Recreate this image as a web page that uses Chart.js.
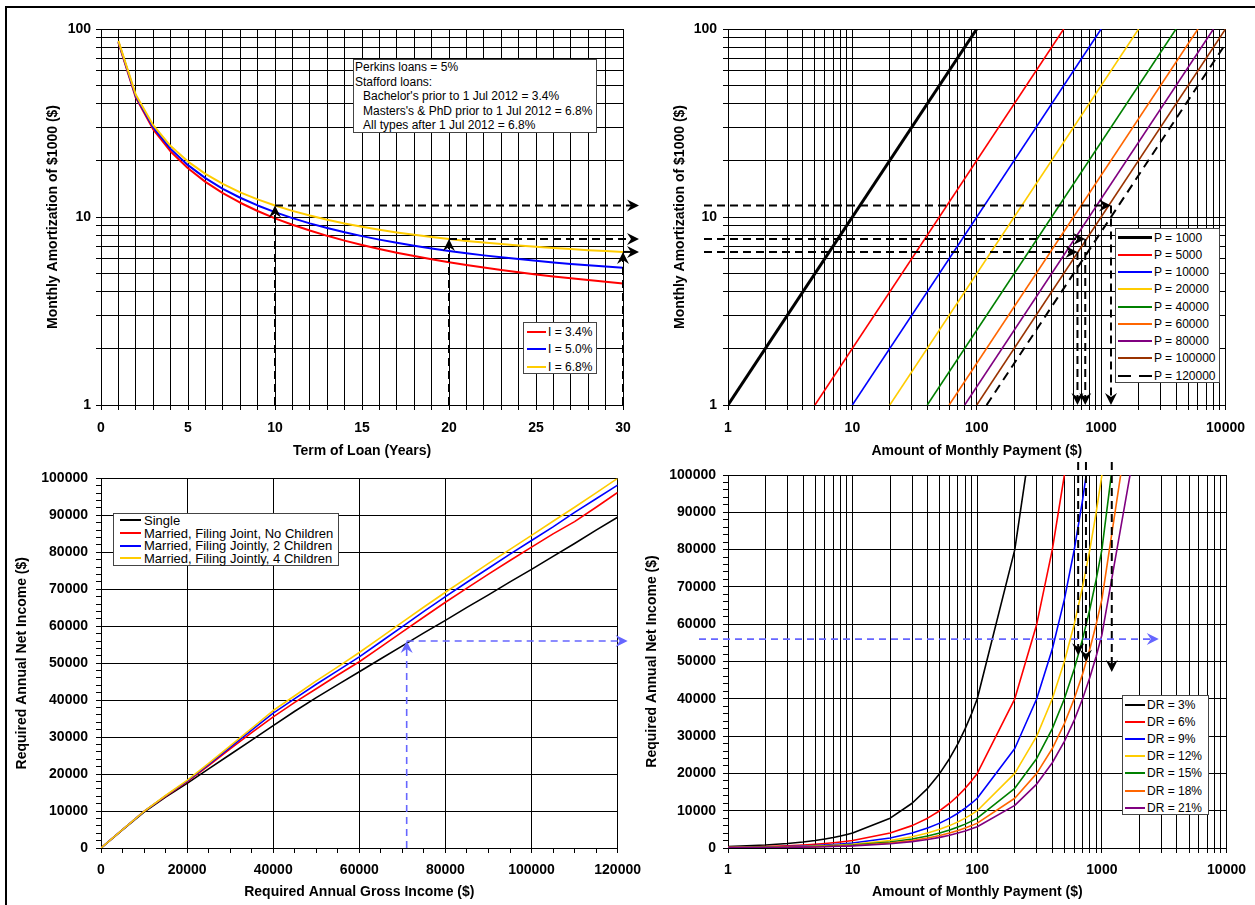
<!DOCTYPE html>
<html>
<head>
<meta charset="utf-8">
<title>Student loan amortization nomograph</title>
<script src="https://cdn.jsdelivr.net/npm/chart.js@4.4.1/dist/chart.umd.min.js"></script>
<style>
  body { margin: 0; background: #fff; }
  #page { position: relative; width: 1255px; height: 905px; overflow: hidden; background: #fff;
          font-family: "Liberation Sans", Arial, sans-serif; color: #000; }
  #frame { position: absolute; left: 5px; top: 6px; width: 1300px; height: 1000px; border: 2px solid #000; }
  canvas { position: absolute; }
  .legend { position: absolute; background: #fff; border: 1px solid #444; font-size: 12px; box-sizing: border-box; }
  .legend .row { display: flex; align-items: center; white-space: nowrap; }
  .legend .swatch { display: inline-block; flex: none; }
  #legend1 { left: 523px; top: 322px; width: 74px; height: 52px; padding-left: 3px; }
  #legend1 .row { height: 17.5px; }
  #legend1 .swatch { width: 19px; margin-right: 2px; }
  #legend2 { left: 1115px; top: 228px; width: 105px; height: 155px; padding-left: 2px; }
  #legend2 .row { height: 17.25px; }
  #legend2 .swatch { width: 34px; margin-right: 2px; }
  #legend3 { left: 113px; top: 513px; width: 226px; height: 53px; padding-left: 6px; font-size: 13px; }
  #legend3 .row { height: 12.7px; }
  #legend3 .swatch { width: 21px; margin-right: 3px; }
  #legend4 { left: 1122px; top: 695px; width: 87px; height: 120px; padding-left: 2px; }
  #legend4 .row { height: 17.2px; }
  #legend4 .swatch { width: 20px; margin-right: 2px; }
  #note { position: absolute; left: 353px; top: 59px; width: 244px; height: 74px; box-sizing: border-box;
          background: #fff; border: 1px solid #444; font-size: 12px; line-height: 14.6px; padding-left: 1px; }
  #note .in { padding-left: 8px; }
</style>
</head>
<body>
<div id="page">
  <div id="frame"></div>
  <canvas id="c1" width="650" height="462" style="left:0;top:0;width:650px;height:462px"></canvas>
  <canvas id="c2" width="615" height="462" style="left:640px;top:0;width:615px;height:462px"></canvas>
  <canvas id="c3" width="650" height="443" style="left:0;top:462px;width:650px;height:443px"></canvas>
  <canvas id="c4" width="615" height="450" style="left:640px;top:455px;width:615px;height:450px"></canvas>
  <div id="note">
    <div>Perkins loans = 5%</div>
    <div>Stafford loans:</div>
    <div class="in">Bachelor's prior to 1 Jul 2012 = 3.4%</div>
    <div class="in">Masters's &amp; PhD prior to 1 Jul 2012 = 6.8%</div>
    <div class="in">All types after 1 Jul 2012 = 6.8%</div>
  </div>
  <div class="legend" id="legend1"></div>
  <div class="legend" id="legend2"></div>
  <div class="legend" id="legend3"></div>
  <div class="legend" id="legend4"></div>
</div>
<script>
// ---- Panel 1: monthly amortization of $1000 vs term ----
const termYears = [1, 2, 3, 4, 5, 6, 7, 8, 9, 10, 11, 12, 13, 14, 15, 16, 17, 18, 19, 20, 21, 22, 23, 24, 25, 26, 27, 28, 29, 30];
const amort34 = [84.88, 43.16, 29.26, 22.31, 18.15, 15.37, 13.39, 11.91, 10.76, 9.84, 9.09, 8.47, 7.94, 7.49, 7.10, 6.76, 6.46, 6.20, 5.96, 5.75, 5.56, 5.38, 5.23, 5.08, 4.95, 4.83, 4.72, 4.62, 4.52, 4.43];
const amort50 = [85.61, 43.87, 29.97, 23.03, 18.87, 16.10, 14.13, 12.66, 11.52, 10.61, 9.86, 9.25, 8.73, 8.29, 7.91, 7.58, 7.29, 7.03, 6.80, 6.60, 6.42, 6.25, 6.10, 5.97, 5.85, 5.73, 5.63, 5.54, 5.45, 5.37];
const amort68 = [86.44, 44.68, 30.79, 23.85, 19.71, 16.95, 15.00, 13.53, 12.41, 11.51, 10.78, 10.18, 9.67, 9.24, 8.88, 8.56, 8.28, 8.04, 7.82, 7.63, 7.46, 7.31, 7.18, 7.05, 6.94, 6.84, 6.75, 6.66, 6.59, 6.52];
const rateLabels = ['I = 3.4%', 'I = 5.0%', 'I = 6.8%'];
const amortTicks = [1, 2, 3, 4, 5, 6, 7, 8, 9, 10, 20, 30, 40, 50, 60, 70, 80, 90, 100];
const amortLabels = [1, 10, 100];

// ---- Panel 2: amortization vs monthly payment, one line per principal ----
const principalLabels = ['P = 1000', 'P = 5000', 'P = 10000', 'P = 20000', 'P = 40000', 'P = 60000', 'P = 80000', 'P = 100000', 'P = 120000'];
const amortEnds = [1, 100];
const paymentAtLow = [1, 5, 10, 20, 40, 60, 80, 100, 120];
const paymentAtHigh = [100, 500, 1000, 2000, 4000, 6000, 8000, 10000, 12000];
const paymentTicks = [1, 2, 3, 4, 5, 6, 7, 8, 9, 10, 20, 30, 40, 50, 60, 70, 80, 90, 100, 200, 300, 400, 500, 600, 700, 800, 900, 1000, 2000, 3000, 4000, 5000, 6000, 7000, 8000, 9000, 10000];
const paymentLabels = [1, 10, 100, 1000, 10000];

// ---- Panel 3: net vs gross income ----
const grossIncome = [0, 5000, 10000, 15000, 20000, 25000, 30000, 35000, 40000, 45000, 50000, 55000, 60000, 65000, 70000, 75000, 80000, 85000, 90000, 95000, 100000, 105000, 110000, 115000, 120000];
const netSingle = [0, 4900, 9700, 13800, 17500, 21400, 25300, 29200, 33100, 37000, 40700, 44200, 47700, 51200, 54700, 58200, 61600, 65100, 68500, 72000, 75400, 78900, 82400, 86000, 89500];
const netMarried0 = [0, 5000, 9900, 14000, 17900, 22300, 26800, 31200, 35500, 39400, 43100, 46800, 50400, 54400, 58500, 62500, 66500, 70300, 74100, 77800, 81400, 85000, 88300, 92200, 96200];
const netMarried2 = [0, 5000, 9900, 14100, 18100, 22600, 27200, 31900, 36500, 40400, 44300, 48000, 51700, 55800, 59900, 64000, 68000, 71900, 75700, 79500, 83200, 86900, 90800, 94500, 98200];
const netMarried4 = [0, 5000, 9900, 14200, 18300, 22900, 27600, 32400, 37200, 41200, 45200, 49000, 52900, 57000, 61100, 65200, 69200, 73100, 77000, 80800, 84600, 88400, 92200, 96100, 100000];
const filingLabels = ['Single', 'Married, Filing Joint, No Children', 'Married, Filing Jointly, 2 Children', 'Married, Filing Jointly, 4 Children'];

// ---- Panel 4: net income vs monthly payment, one curve per debt ratio ----
const paymentSteps = [1, 2, 3, 4, 5, 6, 7, 8, 9, 10, 20, 30, 40, 50, 60, 70, 80, 90, 100, 200, 300, 400, 500, 600, 700, 800, 900, 1000, 2000];
const netDR3 = [400, 800, 1200, 1600, 2000, 2400, 2800, 3200, 3600, 4000, 8000, 12000, 16000, 20000, 24000, 28000, 32000, 36000, 40000, 80000, 120000];
const netDR6 = [200, 400, 600, 800, 1000, 1200, 1400, 1600, 1800, 2000, 4000, 6000, 8000, 10000, 12000, 14000, 16000, 18000, 20000, 40000, 60000, 80000, 100000, 120000];
const netDR9 = [133, 267, 400, 533, 667, 800, 933, 1067, 1200, 1333, 2667, 4000, 5333, 6667, 8000, 9333, 10667, 12000, 13333, 26667, 40000, 53333, 66667, 80000, 93333, 106667];
const netDR12 = [100, 200, 300, 400, 500, 600, 700, 800, 900, 1000, 2000, 3000, 4000, 5000, 6000, 7000, 8000, 9000, 10000, 20000, 30000, 40000, 50000, 60000, 70000, 80000, 90000, 100000];
const netDR15 = [80, 160, 240, 320, 400, 480, 560, 640, 720, 800, 1600, 2400, 3200, 4000, 4800, 5600, 6400, 7200, 8000, 16000, 24000, 32000, 40000, 48000, 56000, 64000, 72000, 80000, 160000];
const netDR18 = [67, 133, 200, 267, 333, 400, 467, 533, 600, 667, 1333, 2000, 2667, 3333, 4000, 4667, 5333, 6000, 6667, 13333, 20000, 26667, 33333, 40000, 46667, 53333, 60000, 66667, 133333];
const netDR21 = [57, 114, 171, 229, 286, 343, 400, 457, 514, 571, 1143, 1714, 2286, 2857, 3429, 4000, 4571, 5143, 5714, 11429, 17143, 22857, 28571, 34286, 40000, 45714, 51429, 57143, 114286];
const drLabels = ['DR = 3%', 'DR = 6%', 'DR = 9%', 'DR = 12%', 'DR = 15%', 'DR = 18%', 'DR = 21%'];

// ---- worked-example guide arrows ----
const guideTerms = [10, 20, 30];
const guideAmort = [11.51, 7.63, 6.52];
const guidePayments = [1200, 745, 645];
const guideNet = [47200, 49900, 51700];
const exampleGross = 71000;
const exampleNet = 56000;
const exampleNetPayment = 2860;

// colours
const rateColors = ['#ff0000', '#0000ff', '#ffcc00'];
const principalColors = ['#000000', '#ff0000', '#0000ff', '#ffcc00', '#008000', '#ff6600', '#800080', '#993300', '#000000'];
const filingColors = ['#000000', '#ff0000', '#0000ff', '#ffcc00'];
const drColors = ['#000000', '#ff0000', '#0000ff', '#ffcc00', '#008000', '#ff6600', '#800080'];

Chart.defaults.font.family = '"Liberation Sans", Arial, sans-serif';
Chart.defaults.color = '#000';

const tickFont = { size: 14, weight: 'bold' };
const titleFont = { size: 14, weight: 'bold' };
const blackGuide = { color: '#000', width: 2, dash: [8, 5] };
const blueGuide = { color: '#6666ff', width: 1.6, dash: [7, 5] };

function pts(xs, ys) {
  return ys.map((y, i) => ({ x: xs[i], y: y }));
}

function arrowHead(ctx, x1, y1, x2, y2, color) {
  const a = Math.atan2(y2 - y1, x2 - x1);
  ctx.save();
  ctx.translate(x2, y2);
  ctx.rotate(a);
  ctx.setLineDash([]);
  ctx.fillStyle = color;
  ctx.beginPath();
  ctx.moveTo(0, 0);
  ctx.lineTo(-12, -6);
  ctx.lineTo(-8, 0);
  ctx.lineTo(-12, 6);
  ctx.closePath();
  ctx.fill();
  ctx.restore();
}

function guide(ctx, x1, y1, x2, y2, style) {
  const len = Math.hypot(x2 - x1, y2 - y1);
  const k = len > 8 ? (len - 8) / len : 0;
  ctx.save();
  ctx.strokeStyle = style.color;
  ctx.lineWidth = style.width;
  ctx.setLineDash(style.dash);
  ctx.beginPath();
  ctx.moveTo(x1, y1);
  ctx.lineTo(x1 + (x2 - x1) * k, y1 + (y2 - y1) * k);
  ctx.stroke();
  ctx.restore();
  arrowHead(ctx, x1, y1, x2, y2, style.color);
}

function logAxis(min, max, tickValues, labelValues, pad, fitSize, horizontal, title, titlePad) {
  return {
    type: 'logarithmic', min: min, max: max,
    afterBuildTicks: s => { s.ticks = tickValues.map(v => ({ value: v })); },
    afterFit: s => { if (horizontal) s.height = fitSize; else s.width = fitSize; },
    ticks: { autoSkip: false, maxRotation: 0, padding: pad, font: tickFont, color: '#000',
             callback: v => labelValues.includes(v) ? String(v) : '' },
    grid: { color: '#000', tickColor: '#000', tickLength: 5, lineWidth: 1 },
    border: { color: '#000', width: 1 },
    title: { display: true, text: title, font: titleFont, color: '#000', padding: titlePad }
  };
}

function linAxis(min, max, step, gridEvery, labelEvery, pad, fitSize, horizontal, title, titlePad) {
  return {
    type: 'linear', min: min, max: max,
    afterFit: s => { if (horizontal) s.height = fitSize; else s.width = fitSize; },
    ticks: { stepSize: step, maxTicksLimit: 80, autoSkip: false, maxRotation: 0, padding: pad, font: tickFont, color: '#000',
             callback: v => Math.round(v) % labelEvery === 0 ? String(v) : '' },
    grid: {
      color: c => (c.tick && Math.round(c.tick.value) % gridEvery === 0) ? '#000' : 'rgba(0,0,0,0)',
      tickColor: '#000', tickLength: 5, lineWidth: 1
    },
    border: { color: '#000', width: 1 },
    title: { display: true, text: title, font: titleFont, color: '#000', padding: titlePad }
  };
}

function baseOptions(pad, xScale, yScale) {
  return {
    responsive: false, animation: false, devicePixelRatio: 1, events: [],
    layout: { padding: pad },
    plugins: { legend: { display: false }, tooltip: { enabled: false } },
    elements: { point: { radius: 0 }, line: { borderJoinStyle: 'round', tension: 0 } },
    scales: { x: xScale, y: yScale }
  };
}

function lineSet(data, color, width, i, dash) {
  return { data: data, borderColor: color, borderWidth: width, fill: false, order: -i, borderDash: dash || [] };
}

// Panel 1
new Chart(document.getElementById('c1'), {
  type: 'line',
  data: {
    datasets: [amort34, amort50, amort68].map((s, i) => lineSet(pts(termYears, s), rateColors[i], 2, i))
  },
  options: baseOptions({ top: 29, right: 27, bottom: 0, left: 0 },
    linAxis(0, 30, 1, 1, 5, 10, 57, true, 'Term of Loan (Years)', { top: 0, bottom: 2.5 }),
    logAxis(1, 100, amortTicks, amortLabels, 5, 101, false, 'Monthly Amortization of $1000 ($)', { top: 44.6, bottom: 0 })),
  plugins: [{
    id: 'guides1',
    afterDatasetsDraw(chart) {
      const { ctx, chartArea: a, scales: { x, y } } = chart;
      guideTerms.forEach((t, i) => {
        const px = x.getPixelForValue(t), py = y.getPixelForValue(guideAmort[i]);
        guide(ctx, px, a.bottom, px, py, blackGuide);
        guide(ctx, px, py, a.right + 16, py, blackGuide);
      });
    }
  }]
});

// Panel 2
new Chart(document.getElementById('c2'), {
  type: 'line',
  data: {
    datasets: principalLabels.map((_, i) => lineSet(
      pts([paymentAtLow[i], paymentAtHigh[i]], amortEnds), principalColors[i],
      i === 0 ? 3 : (i === 8 ? 2 : 1.6), i, i === 8 ? [9, 6] : []))
  },
  options: baseOptions({ top: 29, right: 27, bottom: 0, left: 0 },
    logAxis(1, 10000, paymentTicks, paymentLabels, 10, 57, true, 'Amount of Monthly Payment ($)', { top: 0, bottom: 2.5 }),
    logAxis(1, 100, amortTicks, amortLabels, 6, 88, false, 'Monthly Amortization of $1000 ($)', { top: 31.6, bottom: 0 })),
  plugins: [{
    id: 'guides2',
    afterDatasetsDraw(chart) {
      const { ctx, chartArea: a, scales: { x, y } } = chart;
      guideAmort.forEach((v, i) => {
        const py = y.getPixelForValue(v), px = x.getPixelForValue(guidePayments[i]);
        guide(ctx, a.left - 24, py, px, py, blackGuide);
        guide(ctx, px, py, px, a.bottom, blackGuide);
      });
    }
  }]
});

// Panel 3
new Chart(document.getElementById('c3'), {
  type: 'line',
  data: {
    datasets: [netSingle, netMarried0, netMarried2, netMarried4].map((s, i) => lineSet(pts(grossIncome, s), filingColors[i], 1.6, i))
  },
  options: baseOptions({ top: 13, right: 27, bottom: 0, left: 0 },
    linAxis(0, 120000, 5000, 20000, 20000, 9, 57, true, 'Required Annual Gross Income ($)', { top: 0, bottom: 4 }),
    linAxis(0, 100000, 2000, 10000, 10000, 8, 101, false, 'Required Annual Net Income ($)', { top: 13.6, bottom: 0 })),
  plugins: [{
    id: 'guides3',
    afterDatasetsDraw(chart) {
      const { ctx, chartArea: a, scales: { x, y } } = chart;
      const bx = x.getPixelForValue(exampleGross), by = y.getPixelForValue(exampleNet);
      guide(ctx, bx, a.bottom, bx, by, blueGuide);
      guide(ctx, bx, by, a.right + 10, by, blueGuide);
    }
  }]
});

// Panel 4
new Chart(document.getElementById('c4'), {
  type: 'line',
  data: {
    datasets: [netDR3, netDR6, netDR9, netDR12, netDR15, netDR18, netDR21].map((s, i) => lineSet(pts(paymentSteps, s), drColors[i], 1.6, i))
  },
  options: baseOptions({ top: 20, right: 27, bottom: 0, left: 0 },
    logAxis(1, 10000, paymentTicks, paymentLabels, 9, 57, true, 'Amount of Monthly Payment ($)', { top: 0, bottom: 4 }),
    linAxis(0, 100000, 2000, 10000, 10000, 7, 88, false, 'Required Annual Net Income ($)', { top: 3.6, bottom: 0 })),
  plugins: [{
    id: 'guides4',
    afterDatasetsDraw(chart) {
      const { ctx, chartArea: a, scales: { x, y } } = chart;
      guidePayments.forEach((p, i) => {
        const px = x.getPixelForValue(p);
        guide(ctx, px, a.top - 13, px, y.getPixelForValue(guideNet[i]), blackGuide);
      });
      const by = y.getPixelForValue(exampleNet);
      guide(ctx, a.left - 29, by, x.getPixelForValue(exampleNetPayment), by, blueGuide);
    }
  }]
});

// HTML legends placed inside the plot areas
function buildLegend(id, labels, colors, widths, dashed) {
  const box = document.getElementById(id);
  labels.forEach((label, i) => {
    const row = document.createElement('div');
    row.className = 'row';
    const sw = document.createElement('span');
    sw.className = 'swatch';
    sw.style.height = widths[i] + 'px';
    sw.style.background = dashed && dashed[i]
      ? 'repeating-linear-gradient(to right, ' + colors[i] + ' 0 13px, transparent 13px 21px)'
      : colors[i];
    row.appendChild(sw);
    row.appendChild(document.createTextNode(label));
    box.appendChild(row);
  });
}

buildLegend('legend1', rateLabels, rateColors, [2, 2, 2]);
buildLegend('legend2', principalLabels, principalColors, [3, 2, 2, 2, 2, 2, 2, 2, 2],
  [false, false, false, false, false, false, false, false, true]);
buildLegend('legend3', filingLabels, filingColors, [2, 2, 2, 2]);
buildLegend('legend4', drLabels, drColors, [2, 2, 2, 2, 2, 2, 2]);
</script>
</body>
</html>
